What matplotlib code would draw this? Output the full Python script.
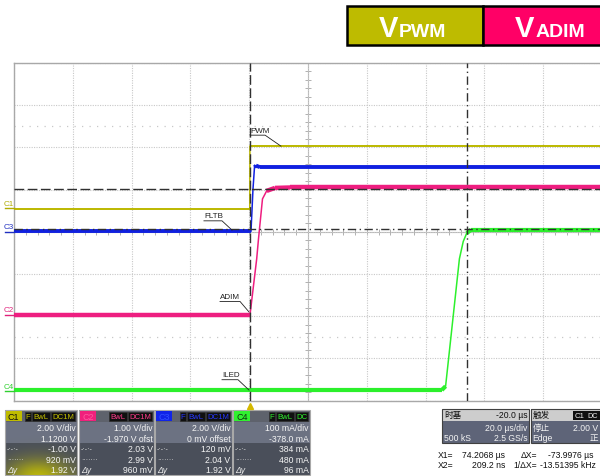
import numpy as np
import matplotlib
matplotlib.use('Agg')
import matplotlib.pyplot as plt
from matplotlib.patches import Rectangle

plt.rcParams['font.family'] = ['Liberation Sans', 'Noto Sans CJK SC', 'DejaVu Sans']

# ---------------- data ----------------
time_per_div_us = 20.0
t_left_us = -80.0
n_xdiv, n_ydiv = 10, 8

ch_names = ['C1', 'C2', 'C3', 'C4']
ch_scale = [2.00, 1.00, 2.00, 100.0]        # V/div (mA/div for C4)
ch_offset = [1.12, -1.970, 0.0, -378.0]     # V (mA for C4)

# C1: PWM (V)
pwm_t = [-80, 0.2, 0.25, 120]
pwm_v = [-0.04, -0.04, 2.95, 2.95]
# C2: ADIM (V)
adim_t = [-80, 0.27, 2.55, 3.16, 4.52, 5.95, 8.78, 13.9, 120]
adim_v = [0.0, 0.0, 1.33, 1.80, 2.75, 2.94, 3.01, 3.02, 3.02]
# C3: FLTB (V)
fltb_t = [-80, 0.61, 1.29, 1.8, 2.31, 3.67, 120]
fltb_v = [0.02, 0.02, 2.03, 3.06, 3.14, 3.06, 3.06]
# C4: ILED (mA)
iled_t = [-80, 65.5, 66.8, 71.5, 72.8, 74.0, 75.5, 120]
iled_ma = [3, 3, 12, 314, 355, 375, 383, 383]

cursor_x_us = [74.2068, 0.2092]
cursor_y_c1 = [-1.00, 0.92]

panel_rows = {
    'C1': ['2.00 V/div', '1.1200 V', '-1.00 V', '920 mV', '1.92 V'],
    'C2': ['1.00 V/div', '-1.970 V ofst', '2.03 V', '2.99 V', '960 mV'],
    'C3': ['2.00 V/div', '0 mV offset', '120 mV', '2.04 V', '1.92 V'],
    'C4': ['100 mA/div', '-378.0 mA', '384 mA', '480 mA', '96 mA'],
}
panel_tags = {
    'C1': ['F', 'BwL', 'DC1M'],
    'C2': ['BwL', 'DC1M'],
    'C3': ['F', 'BwL', 'DC1M'],
    'C4': ['F', 'BwL', 'DC'],
}

# ---------------- style ----------------
col = {'C1': '#bcb800', 'C2': '#ee1e80', 'C3': '#1020e0', 'C4': '#2cf02c'}
lab_col = {'C1': '#b0ac00', 'C2': '#e0207a', 'C3': '#2030c0', 'C4': '#30d030'}
thick = {'C1': 1.3, 'C2': 3.2, 'C3': 2.8, 'C4': 3.0}

W, H = 600, 477
fig = plt.figure(figsize=(6, 4.77), dpi=100)
ax_o = fig.add_axes([0, 0, 1, 1])
ax_o.set_xlim(0, W); ax_o.set_ylim(H, 0); ax_o.axis('off')

L, R, T, B = 14, 602, 64, 401.6
ax = fig.add_axes([L / W, 1 - B / H, (R - L) / W, (B - T) / H])
t_right = t_left_us + n_xdiv * time_per_div_us
ax.set_xlim(t_left_us, t_right)
ax.set_ylim(0, n_ydiv)
ax.set_xticks(np.arange(t_left_us, t_right + 1, time_per_div_us))
ax.set_yticks(np.arange(0, n_ydiv + 1))
ax.tick_params(length=0, labelbottom=False, labelleft=False)
ax.grid(True, color='#c8c8c8', linestyle=(0, (1, 1.2)), lw=0.8)
for s in ['left', 'top', 'bottom']:
    ax.spines[s].set_color('#a8a8a8'); ax.spines[s].set_linewidth(1.0)
ax.spines['right'].set_visible(False)

# center axes with minor ticks
tc = t_left_us + 5 * time_per_div_us
ax.axvline(tc, color='#b8b8b8', lw=0.8, zorder=1)
ax.axhline(4, color='#b8b8b8', lw=0.8, zorder=1)
ax.plot(np.full(41, tc), np.arange(0, 8.01, 0.2), ls='none', marker='_', ms=4, mew=0.7, color='#b0b0b0', zorder=1)
ax.plot(np.arange(t_left_us, t_right + 0.1, 4), np.full(51, 4.0), ls='none', marker='|', ms=4, mew=0.7, color='#b0b0b0', zorder=1)
# sparse dotted rows
for yd in (1.5, 6.5):
    ax.axhline(yd, color='#c8c8c8', lw=0.9, ls=(0, (1, 5)), zorder=1)


def to_div(vals, ch):
    i = ch_names.index(ch)
    return 4 + (np.asarray(vals, dtype=float) + ch_offset[i]) / ch_scale[i]


def draw_trace(t, v, ch, z):
    d = to_div(v, ch)
    t = np.asarray(t, dtype=float)
    ax.plot(t, d, color=col[ch], lw=1.1, zorder=z, solid_joinstyle='round')
    swing = d.max() - d.min()
    for i in range(len(t) - 1):
        if abs(d[i + 1] - d[i]) < 0.03 * swing:
            ax.plot(t[i:i + 2], d[i:i + 2], color=col[ch], lw=thick[ch], zorder=z, solid_capstyle='butt')


draw_trace(pwm_t, pwm_v, 'C1', 3)
draw_trace(fltb_t, fltb_v, 'C3', 3.2)
draw_trace(adim_t, adim_v, 'C2', 3.1)
draw_trace(iled_t, iled_ma, 'C4', 3.3)

# cursors
dash = (0, (7, 2.5))
dashdot = (0, (6, 2.5, 1, 2.5))
ax.axvline(cursor_x_us[1], color='#303030', lw=1.0, ls=dash, zorder=6)
ax.axvline(cursor_x_us[0], color='#303030', lw=1.0, ls=dashdot, zorder=6)
ax.axhline(to_div(cursor_y_c1[1], 'C1'), color='#303030', lw=1.0, ls=dash, zorder=6)
ax.axhline(to_div(cursor_y_c1[0], 'C1'), color='#303030', lw=1.0, ls=dashdot, zorder=6)

# ground markers and channel labels
px_t = time_per_div_us / 58.8
for ch in ch_names:
    g = float(to_div(0, ch))
    ax.plot([t_left_us - 9 * px_t, t_left_us], [g, g], color=lab_col[ch], lw=1.0, clip_on=False, zorder=4)
    ax.text(t_left_us - 10 * px_t, g + 0.12, ch, color=lab_col[ch], fontsize=5.8, ha='left', va='center', clip_on=False)

# trigger marker
ax.plot([0.2], [-0.12], marker='^', ms=4.5, color='#d4b800', clip_on=False, zorder=7)

# trace labels with leader lines
annos = [
    ('PWM', 0.27, 6.41, 5.4, 6.29, 10.8, 6.03),
    ('FLTB', -15.4, 4.39, -9.25, 4.26, -5.85, 4.04),
    ('ADIM', -9.93, 2.46, -3.13, 2.35, -0.07, 2.10),
    ('ILED', -9.25, 0.61, -3.81, 0.495, -0.07, 0.25),
]
for txt, tx, ty, ux, uy, ex, ey in annos:
    ax.text(tx, ty, txt, fontsize=5.8, color='#202020', ha='left', va='center', zorder=8)
    ax.plot([tx, ux, ex], [uy, uy, ey], color='#202020', lw=0.6, zorder=8)

# LeCroy logo
ax_o.text(558, 72, 'LeCroy', fontsize=8, color='#555555', ha='left', va='center', zorder=10)
ax_o.plot([558, 598], [77, 77], color='#555555', lw=0.7)

# ---------------- banner ----------------
ax_o.add_patch(Rectangle((347, 7), 136, 38.5, fc='#bebb00', ec='black', lw=1.8))
ax_o.add_patch(Rectangle((483, 7), 130, 38.5, fc='#ff0066', ec='black', lw=1.8))
ax_o.text(379, 37, 'V', fontsize=21, fontweight='bold', color='white', ha='left', va='baseline')
ax_o.text(399, 37, 'PWM', fontsize=14, fontweight='bold', color='white', ha='left', va='baseline')
ax_o.text(515, 37, 'V', fontsize=21, fontweight='bold', color='white', ha='left', va='baseline')
ax_o.text(536, 37, 'ADIM', fontsize=14, fontweight='bold', color='white', ha='left', va='baseline')

# ---------------- channel panels ----------------
panels = {'C1': (4.7, 77.3), 'C2': (79, 154), 'C3': (155, 232), 'C4': (233, 310)}
tag_w = {'F': 5.5, 'BwL': 17.5, 'DC1M': 24, 'DC': 13}
box_fill = {'C1': '#c0bc00', 'C2': '#f0207c', 'C3': '#1024e8', 'C4': '#30f030'}
box_txt = {'C1': '#101010', 'C2': '#ff5aa0', 'C3': '#3050ff', 'C4': '#103010'}
tag_txt = {'C1': '#c8c400', 'C2': '#ff3c8c', 'C3': '#2838ff', 'C4': '#30f030'}
rows_y = [429, 439.5, 450, 460.5, 471]
pf = 6.2
for ch, (x0, x1) in panels.items():
    w = x1 - x0
    ax_o.add_patch(Rectangle((x0, 411), w, 12, fc='#5e626c', ec='none'))
    ax_o.add_patch(Rectangle((x0, 423), w, 21, fc='#6c7282', ec='none'))
    ax_o.add_patch(Rectangle((x0, 444), w, 32, fc='#4a4f5a', ec='none'))
    if ch == 'C1':
        yy, xx = np.mgrid[423:476:0.5, x0:x1:0.5]
        a = 0.9 * np.exp(-(((xx - 38) / 32) ** 2 + ((yy - 478) / 18) ** 2))
        img = np.zeros(xx.shape + (4,))
        img[..., 0] = 0.78; img[..., 1] = 0.76; img[..., 2] = 0.0; img[..., 3] = a
        ax_o.imshow(img, extent=[x0, x1, 476, 423], aspect='auto', zorder=2, interpolation='bilinear')
    ax_o.add_patch(Rectangle((x0, 411), w, 65, fc='none', ec='#a8a8a8', lw=0.8, zorder=3))
    # channel box
    ax_o.add_patch(Rectangle((x0 + 0.8, 412.3), 16, 10, fc=box_fill[ch], ec='none', zorder=3))
    ax_o.text(x0 + 8.8, 417.6, ch, fontsize=6.5, color=box_txt[ch], ha='center', va='center', zorder=4)
    xr = x1 - 2
    for tg in reversed(panel_tags[ch]):
        tw = tag_w[tg]
        ax_o.add_patch(Rectangle((xr - tw, 412.5), tw, 9.8, fc='#101010', ec='#303030', lw=0.5, zorder=3))
        ax_o.text(xr - tw / 2, 417.6, tg, fontsize=5.6, color=tag_txt[ch], ha='center', va='center', zorder=4)
        xr -= tw + 1.5
    for ry, txt in zip(rows_y, panel_rows[ch]):
        ax_o.text(x1 - 1.5, ry, txt, fontsize=pf, color='#f4f4f4', ha='right', va='center', zorder=4)
    ax_o.text(x0 + 2, rows_y[2], '-·-·-', fontsize=5, color='#e0e0e0', ha='left', va='center', zorder=4)
    ax_o.text(x0 + 2, rows_y[3], '·······', fontsize=5, color='#e0e0e0', ha='left', va='center', zorder=4)
    ax_o.text(x0 + 2, rows_y[4], 'Δy', fontsize=pf, style='italic', color='#e8e8e8', ha='left', va='center', zorder=4)

# ---------------- timebase / trigger ----------------
for bx0, bx1 in [(442, 529), (530.7, 603)]:
    ax_o.add_patch(Rectangle((bx0, 410), bx1 - bx0, 12, fc='#cdcdcd', ec='none'))
    ax_o.add_patch(Rectangle((bx0, 422), bx1 - bx0, 22.3, fc='#5e6478', ec='none'))
    ax_o.add_patch(Rectangle((bx0, 410), bx1 - bx0, 34.3, fc='none', ec='#404040', lw=0.8))
ax_o.text(444, 415.5, '时基', fontsize=pf, color='#101010', ha='left', va='center')
ax_o.text(527.5, 415.5, '-20.0 µs', fontsize=pf, color='#101010', ha='right', va='center')
ax_o.text(527.5, 428.3, '20.0 µs/div', fontsize=pf, color='#f4f4f4', ha='right', va='center')
ax_o.text(444, 438.5, '500 kS', fontsize=pf, color='#f4f4f4', ha='left', va='center')
ax_o.text(527.5, 438.5, '2.5 GS/s', fontsize=pf, color='#f4f4f4', ha='right', va='center')
ax_o.text(532.5, 415.5, '触发', fontsize=pf, color='#101010', ha='left', va='center')
ax_o.add_patch(Rectangle((573, 411.5), 13.5, 9.5, fc='#101010', ec='none'))
ax_o.add_patch(Rectangle((587, 411.5), 16, 9.5, fc='#101010', ec='none'))
ax_o.text(579.8, 416.3, 'C1', fontsize=5.6, color='#f0f0f0', ha='center', va='center')
ax_o.text(593, 416.3, 'DC', fontsize=5.2, color='#f0f0f0', ha='center', va='center')
ax_o.text(598.5, 428.3, '2.00 V', fontsize=pf, color='#f4f4f4', ha='right', va='center')
ax_o.text(532.5, 428.3, '停止', fontsize=pf, color='#f4f4f4', ha='left', va='center')
ax_o.text(532.5, 438.5, 'Edge', fontsize=pf, color='#f4f4f4', ha='left', va='center')
ax_o.text(598.5, 438.5, '正', fontsize=pf, color='#f4f4f4', ha='right', va='center')

ax_o.text(438, 456, 'X1=', fontsize=pf, color='#101010', ha='left', va='center')
ax_o.text(505, 456, '74.2068 µs', fontsize=pf, color='#101010', ha='right', va='center')
ax_o.text(537, 456, 'ΔX=', fontsize=pf, color='#101010', ha='right', va='center')
ax_o.text(548, 456, '-73.9976 µs', fontsize=pf, color='#101010', ha='left', va='center')
ax_o.text(438, 466, 'X2=', fontsize=pf, color='#101010', ha='left', va='center')
ax_o.text(505, 466, '209.2 ns', fontsize=pf, color='#101010', ha='right', va='center')
ax_o.text(537, 466, '1/ΔX=', fontsize=pf, color='#101010', ha='right', va='center')
ax_o.text(540, 466, '-13.51395 kHz', fontsize=pf, color='#101010', ha='left', va='center')

fig.savefig('out.png', dpi=100)
